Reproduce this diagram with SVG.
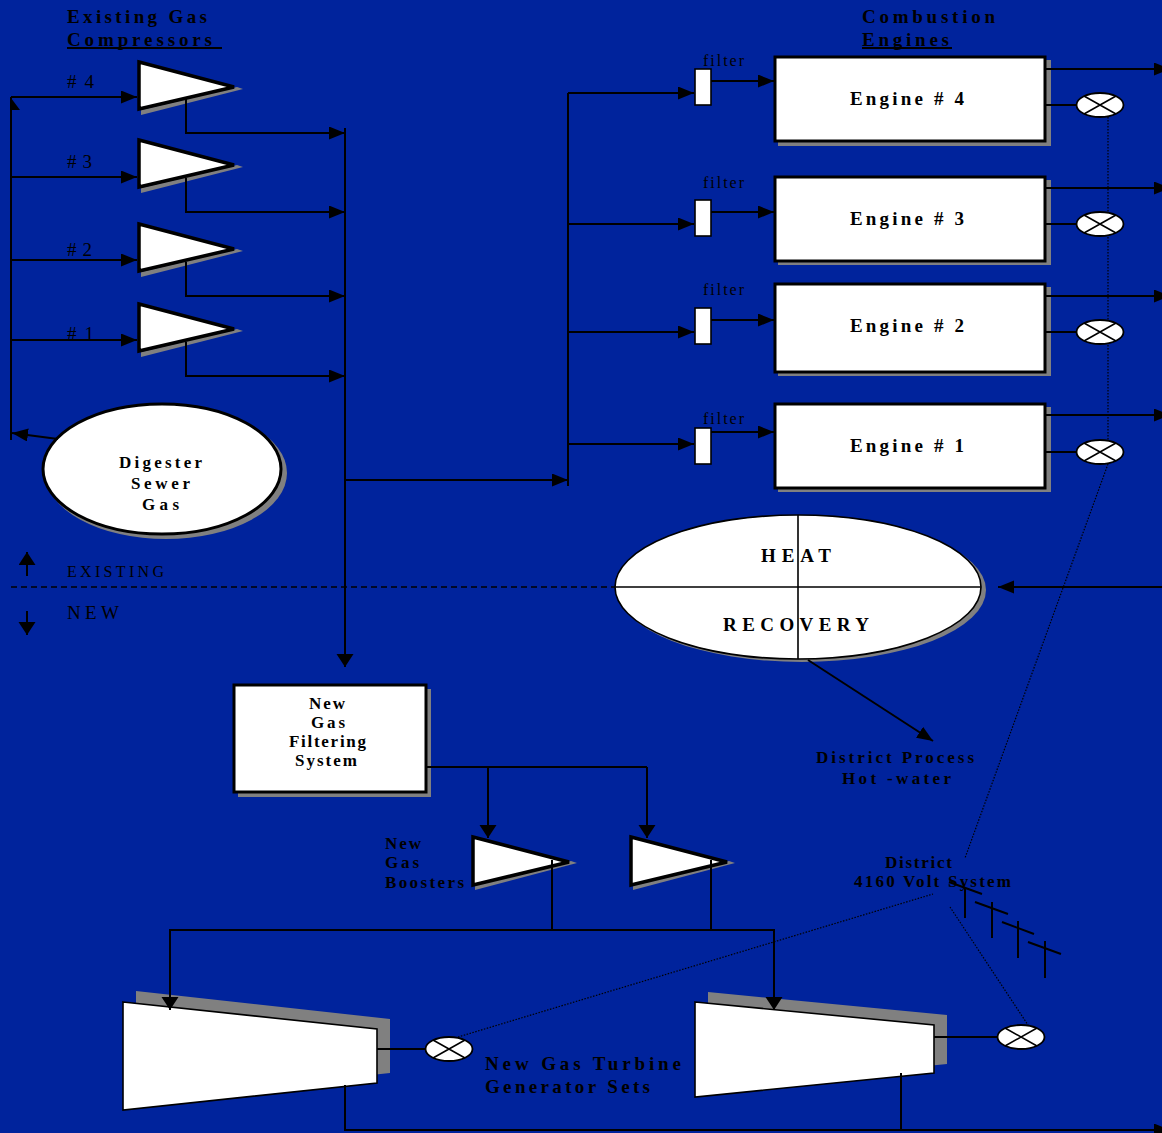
<svg xmlns="http://www.w3.org/2000/svg" xmlns:xlink="http://www.w3.org/1999/xlink" width="1162" height="1133" viewBox="0 0 1162 1133">
<style>
text{font-family:"Liberation Serif","Times New Roman",serif;fill:#000}
.b{font-weight:bold;font-size:19px}
.s{font-weight:bold;font-size:17px}
.r{font-size:19px}
.f{font-size:16px}
.c{fill:none;stroke:#000;stroke-width:2}
.d{fill:none;stroke:#000;stroke-width:1.2;stroke-dasharray:1.5 1.5}
.sh{fill:#808080;stroke:none}
.w{fill:#fff;stroke:#000;stroke-width:3}
.t{fill:#fff;stroke:#000;stroke-width:1.6}
.tri{fill:#fff;stroke:#000;stroke-width:3.5}
.v{fill:#fff;stroke:#000;stroke-width:1.8}
.x{fill:none;stroke:#000;stroke-width:1.6}
.h{fill:#000;stroke:none}
</style>
<defs>
<marker id="a" markerUnits="userSpaceOnUse" markerWidth="18" markerHeight="14" refX="16" refY="6.5" orient="auto"><path d="M0 0L16 6.5L0 13Z" fill="#000"/></marker>
<marker id="v" markerUnits="userSpaceOnUse" markerWidth="14" markerHeight="18" refX="13" refY="8.5" orient="auto"><path d="M0 0L13 8.5L0 17Z" fill="#000"/></marker>
<g id="comp"><path class="sh" d="M141 110L237 87L243 89L141 115Z"/><path class="tri" d="M139 62L234 87L139 109Z"/></g>
<g id="valve"><ellipse class="v" rx="23.5" ry="12"/><path class="x" d="M-16-9L16 9M-16 9L16-9"/></g>
</defs>
<rect width="1162" height="1133" fill="#00239c"/>

<g id="compressor-4"><use href="#comp"/></g>
<g id="compressor-3"><use href="#comp" y="78"/></g>
<g id="compressor-2"><use href="#comp" y="162"/></g>
<g id="compressor-1"><use href="#comp" y="242"/></g>

<g id="digester"><ellipse class="sh" cx="166" cy="473" rx="121" ry="66"/><ellipse class="w" cx="162" cy="469" rx="119" ry="65"/>
<text class="s" x="119" y="468" textLength="83">Digester</text>
<text class="s" x="131" y="489" textLength="59">Sewer</text>
<text class="s" x="142" y="510" textLength="37">Gas</text></g>

<g id="filter-4"><rect class="t" x="695" y="69" width="16" height="36"/></g>
<g id="filter-3"><rect class="t" x="695" y="200" width="16" height="36"/></g>
<g id="filter-2"><rect class="t" x="695" y="308" width="16" height="36"/></g>
<g id="filter-1"><rect class="t" x="695" y="428" width="16" height="36"/></g>

<g id="engine-4"><rect class="sh" x="778" y="60" width="273" height="86"/><rect class="w" x="775" y="57" width="270" height="84"/><text class="b" x="850" y="105" textLength="114">Engine # 4</text></g>
<g id="engine-3"><rect class="sh" x="778" y="180" width="273" height="85"/><rect class="w" x="775" y="177" width="270" height="84"/><text class="b" x="850" y="225" textLength="114">Engine # 3</text></g>
<g id="engine-2"><rect class="sh" x="778" y="287" width="273" height="89"/><rect class="w" x="775" y="284" width="270" height="88"/><text class="b" x="850" y="332" textLength="114">Engine # 2</text></g>
<g id="engine-1"><rect class="sh" x="778" y="407" width="273" height="85"/><rect class="w" x="775" y="404" width="270" height="84"/><text class="b" x="850" y="452" textLength="114">Engine # 1</text></g>

<g id="heat-recovery"><ellipse class="sh" cx="802" cy="590" rx="184" ry="72"/><ellipse fill="#fff" stroke="#000" stroke-width="1.6" cx="798" cy="587" rx="183" ry="72"/>
<path fill="none" stroke="#000" stroke-width="1.6" d="M615 587H981M798 515V659"/>
<text class="b" x="761" y="562" textLength="70">HEAT</text>
<text class="b" x="723" y="631" textLength="146">RECOVERY</text></g>

<g id="new-gas-filtering"><rect class="sh" x="238" y="689" width="193" height="108"/><rect class="w" x="234" y="685" width="192" height="107"/>
<text class="s" x="309" y="709" textLength="36">New</text>
<text class="s" x="311" y="728" textLength="34">Gas</text>
<text class="s" x="289" y="747" textLength="77">Filtering</text>
<text class="s" x="295" y="766" textLength="62">System</text></g>

<g id="booster-1"><path class="sh" d="M475 885L571 861L577 863L475 890Z"/><path class="tri" d="M473 837L569 862L473 885Z"/></g>
<g id="booster-2"><path class="sh" d="M633 885L729 861L735 863L633 890Z"/><path class="tri" d="M631 837L727 862L631 885Z"/></g>

<g id="turbine-1"><path class="sh" d="M136 991L390 1019V1073L136 1100Z"/><path class="t" d="M123 1002L377 1029V1083L123 1110Z"/></g>
<g id="turbine-2"><path class="sh" d="M708 992L947 1015V1064L708 1088Z"/><path class="t" d="M695 1002L934 1025V1073L695 1097Z"/></g>

<g id="connectors">
<path class="c" d="M11 97V440" />
<path class="h" d="M11 98L20 110H11Z"/>
<path class="c" marker-end="url(#a)" d="M11 97H137"/>
<path class="c" marker-end="url(#a)" d="M11 177H137"/>
<path class="c" marker-end="url(#a)" d="M11 260H137"/>
<path class="c" marker-end="url(#a)" d="M11 340H137"/>
<path class="c" marker-end="url(#a)" d="M58 439L12 433"/>
<path class="c" marker-end="url(#a)" d="M186 99V133H345"/>
<path class="c" marker-end="url(#a)" d="M186 178V212H345"/>
<path class="c" marker-end="url(#a)" d="M186 262V296H345"/>
<path class="c" marker-end="url(#a)" d="M186 342V376H345"/>
<path class="c" marker-end="url(#v)" d="M345 128V667"/>
<path class="c" marker-end="url(#a)" d="M345 480H568"/>
<path class="c" d="M568 93V486"/>
<path class="c" marker-end="url(#a)" d="M568 93H694"/>
<path class="c" marker-end="url(#a)" d="M568 224H694"/>
<path class="c" marker-end="url(#a)" d="M568 332H694"/>
<path class="c" marker-end="url(#a)" d="M568 444H694"/>
<path class="c" marker-end="url(#a)" d="M711 81H774"/>
<path class="c" marker-end="url(#a)" d="M711 212H774"/>
<path class="c" marker-end="url(#a)" d="M711 320H774"/>
<path class="c" marker-end="url(#a)" d="M711 432H774"/>
<path class="c" marker-end="url(#a)" d="M1045 69H1170"/>
<path class="c" marker-end="url(#a)" d="M1045 188H1170"/>
<path class="c" marker-end="url(#a)" d="M1045 296H1170"/>
<path class="c" marker-end="url(#a)" d="M1045 415H1170"/>
<path class="c" d="M1045 105H1077M1045 224H1077M1045 332H1077M1045 452H1077"/>
<path class="d" d="M1108 117V440"/>
<path class="d" d="M1108 464L965 858"/>
<path class="d" d="M458 1037L933 894"/>
<path class="d" d="M950 907L1028 1025"/>
<path class="c" marker-end="url(#a)" d="M1162 587H998"/>
<path class="c" marker-end="url(#a)" d="M808 660L933 741"/>
<path class="c" d="M426 767H647"/>
<path class="c" marker-end="url(#v)" d="M488 767V838"/>
<path class="c" marker-end="url(#v)" d="M647 767V838"/>
<path class="c" d="M552 860V930M711 860V930"/>
<path class="c" marker-end="url(#v)" d="M775 930H170V1010"/>
<path class="c" marker-end="url(#v)" d="M774 930V1010"/>
<path class="c" d="M377 1049H425M934 1037H997"/>
<path class="c" d="M901 1073V1130"/>
<path class="c" marker-end="url(#a)" d="M345 1085V1130H1170"/>
<path class="c" d="M949 882L982 894M965 888V918M975 902L1008 914M992 902V938M1002 922L1034 934M1018 921V958M1028 942L1061 954M1045 941V978"/>
<path fill="none" stroke="#000" stroke-width="1.3" stroke-dasharray="6 4" d="M11 587H615"/>
<path class="c" marker-end="url(#v)" d="M27 576V552"/>
<path class="c" marker-end="url(#v)" d="M27 611V635"/>
</g>

<g id="valve-4"><use href="#valve" x="1100" y="105"/></g>
<g id="valve-3"><use href="#valve" x="1100" y="224"/></g>
<g id="valve-2"><use href="#valve" x="1100" y="332"/></g>
<g id="valve-1"><use href="#valve" x="1100" y="452"/></g>
<g id="valve-5"><use href="#valve" x="449" y="1049"/></g>
<g id="valve-6"><use href="#valve" x="1021" y="1037"/></g>

<g id="labels">
<text class="b" x="67" y="23" textLength="140">Existing Gas</text>
<text class="b" x="67" y="46" textLength="145">Compressors</text>
<path class="c" d="M67 48H222"/>
<text class="b" x="862" y="23" textLength="133">Combustion</text>
<text class="b" x="862" y="46" textLength="87">Engines</text>
<path class="c" d="M862 48H952"/>
<text class="r" x="67" y="88" textLength="27"># 4</text>
<text class="r" x="67" y="168" textLength="25"># 3</text>
<text class="r" x="67" y="256" textLength="25"># 2</text>
<text class="r" x="67" y="340" textLength="27"># 1</text>
<text class="f" x="703" y="66" textLength="41">filter</text>
<text class="f" x="703" y="188" textLength="41">filter</text>
<text class="f" x="703" y="295" textLength="41">filter</text>
<text class="f" x="703" y="424" textLength="41">filter</text>
<text class="f" x="67" y="577" textLength="97">EXISTING</text>
<text class="r" x="67" y="619" textLength="52">NEW</text>
<text class="s" x="816" y="763" textLength="158">District Process</text>
<text class="s" x="842" y="784" textLength="109">Hot -water</text>
<text class="s" x="385" y="849" textLength="36">New</text>
<text class="s" x="385" y="868" textLength="34">Gas</text>
<text class="s" x="385" y="888" textLength="79">Boosters</text>
<text class="s" x="885" y="868" textLength="67">District</text>
<text class="s" x="854" y="887" textLength="157">4160 Volt System</text>
<text class="b" x="485" y="1070" textLength="196">New Gas Turbine</text>
<text class="b" x="485" y="1093" textLength="165">Generator Sets</text>
</g>
</svg>
